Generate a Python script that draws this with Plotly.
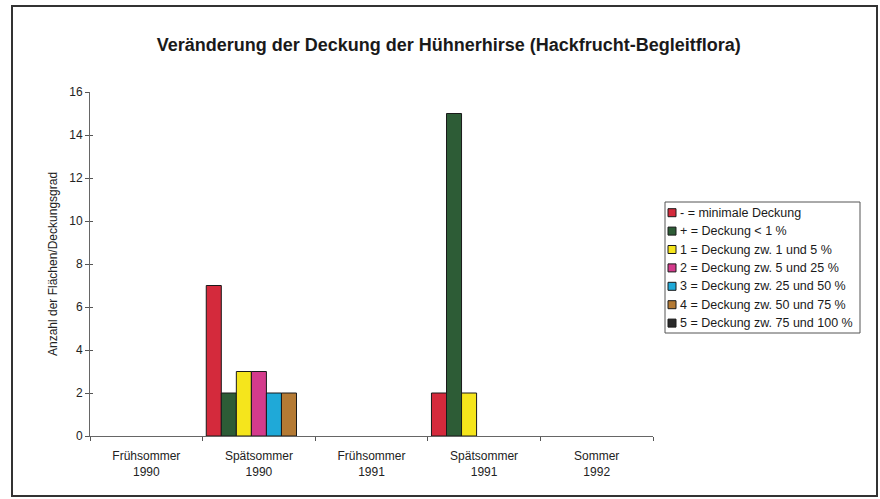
import plotly.graph_objects as go

# Sampling periods (x categories) and the cover classes shown as bar series
perioden = ["Frühsommer<br>1990", "Spätsommer<br>1990", "Frühsommer<br>1991",
            "Spätsommer<br>1991", "Sommer<br>1992"]

klassen = [
    "- = minimale Deckung",
    "+ = Deckung < 1 %",
    "1 = Deckung zw. 1 und 5 %",
    "2 = Deckung zw. 5 und 25 %",
    "3 = Deckung zw. 25 und 50 %",
    "4 = Deckung zw. 50 und 75 %",
    "5 = Deckung zw. 75 und 100 %",
]

# Number of plots per cover class and period
minimal = [0, 7, 0, 2, 0]
unter1 = [0, 2, 0, 15, 0]
d1_5 = [0, 3, 0, 2, 0]
d5_25 = [0, 3, 0, 0, 0]
d25_50 = [0, 2, 0, 0, 0]
d50_75 = [0, 2, 0, 0, 0]
d75_100 = [0, 0, 0, 0, 0]

werte = [minimal, unter1, d1_5, d5_25, d25_50, d50_75, d75_100]
farben = ["#d42a3c", "#2d5c36", "#f5e51c", "#d43b8c", "#1fa9d8", "#b47a34", "#2a2a2a"]

font_fam = "Liberation Sans, Arial, sans-serif"

# plot-area geometry in pixels, used to place the frame and the key box
W, H = 880, 499
L, R, T, B = 90, 227, 92, 63
PW, PH = W - L - R, H - T - B


def px_x(x):
    return (x - L) / PW


def px_y(y):
    return (H - B - y) / PH


fig = go.Figure()
for name, vals, col in zip(klassen, werte, farben):
    fig.add_trace(go.Bar(
        x=perioden, y=vals, name=name, showlegend=False,
        marker=dict(color=col,
                    line=dict(color="#1a1a1a", width=[1 if v > 0 else 0 for v in vals])),
    ))

# helper axis that only draws the inner half of the crossing y ticks
fig.add_trace(go.Scatter(x=[None], y=[None], yaxis="y2", showlegend=False,
                         hoverinfo="skip"))

fig.update_layout(
    width=W, height=H,
    margin=dict(l=L, r=R, t=T, b=B),
    paper_bgcolor="white", plot_bgcolor="white",
    barmode="group", bargap=0.065, bargroupgap=0,
    font=dict(family=font_fam, size=12, color="#222"),
    title=dict(
        text="<b>Veränderung der Deckung der Hühnerhirse (Hackfrucht-Begleitflora)</b>",
        x=0.51, xanchor="center", y=0.91, yanchor="middle",
        font=dict(family=font_fam, size=18, color="#1a1a1a"),
    ),
    showlegend=False,
    xaxis=dict(
        type="category", tickson="boundaries",
        ticks="outside", ticklen=4, tickcolor="#555",
        showline=True, linecolor="#666", linewidth=1,
        showgrid=False, zeroline=False,
        ticklabelstandoff=9,
        tickfont=dict(family=font_fam, size=12, color="#222"),
    ),
    yaxis=dict(
        range=[0, 16], dtick=2,
        ticks="outside", ticklen=4, tickcolor="#555",
        showline=True, linecolor="#666", linewidth=1,
        showgrid=False, zeroline=False,
        tickfont=dict(family=font_fam, size=12, color="#222"),
        title=dict(text="Anzahl der Flächen/Deckungsgrad", standoff=9,
                   font=dict(family=font_fam, size=12, color="#222")),
    ),
    yaxis2=dict(
        overlaying="y", side="left", range=[0, 16], dtick=2,
        ticks="inside", ticklen=3, tickcolor="#555",
        showticklabels=False, showline=False, showgrid=False, zeroline=False,
    ),
)

# Outer frame around the whole chart
fig.add_shape(type="rect", xref="paper", yref="paper",
              x0=px_x(12), x1=px_x(877), y0=px_y(496), y1=px_y(6),
              line=dict(color="#333", width=2), fillcolor="rgba(0,0,0,0)")

# Key box with one coloured square per cover class
key_left, key_top, key_right, key_bottom = 665, 202, 860, 333
fig.add_shape(type="rect", xref="paper", yref="paper",
              x0=px_x(key_left), x1=px_x(key_right),
              y0=px_y(key_bottom), y1=px_y(key_top),
              line=dict(color="#555", width=1), fillcolor="white")
row_h = 18.4
for i, (name, col) in enumerate(zip(klassen, farben)):
    yc = key_top + 10.7 + i * row_h
    fig.add_shape(type="rect", xref="paper", yref="paper",
                  x0=px_x(668), x1=px_x(676), y0=px_y(yc + 4), y1=px_y(yc - 4),
                  line=dict(color="#1a1a1a", width=1), fillcolor=col)
    fig.add_annotation(xref="paper", yref="paper", x=px_x(678), y=px_y(yc),
                       xanchor="left", yanchor="middle", showarrow=False,
                       text=name, font=dict(family=font_fam, size=12.5, color="#1a1a1a"))

fig.write_html("out.html")
